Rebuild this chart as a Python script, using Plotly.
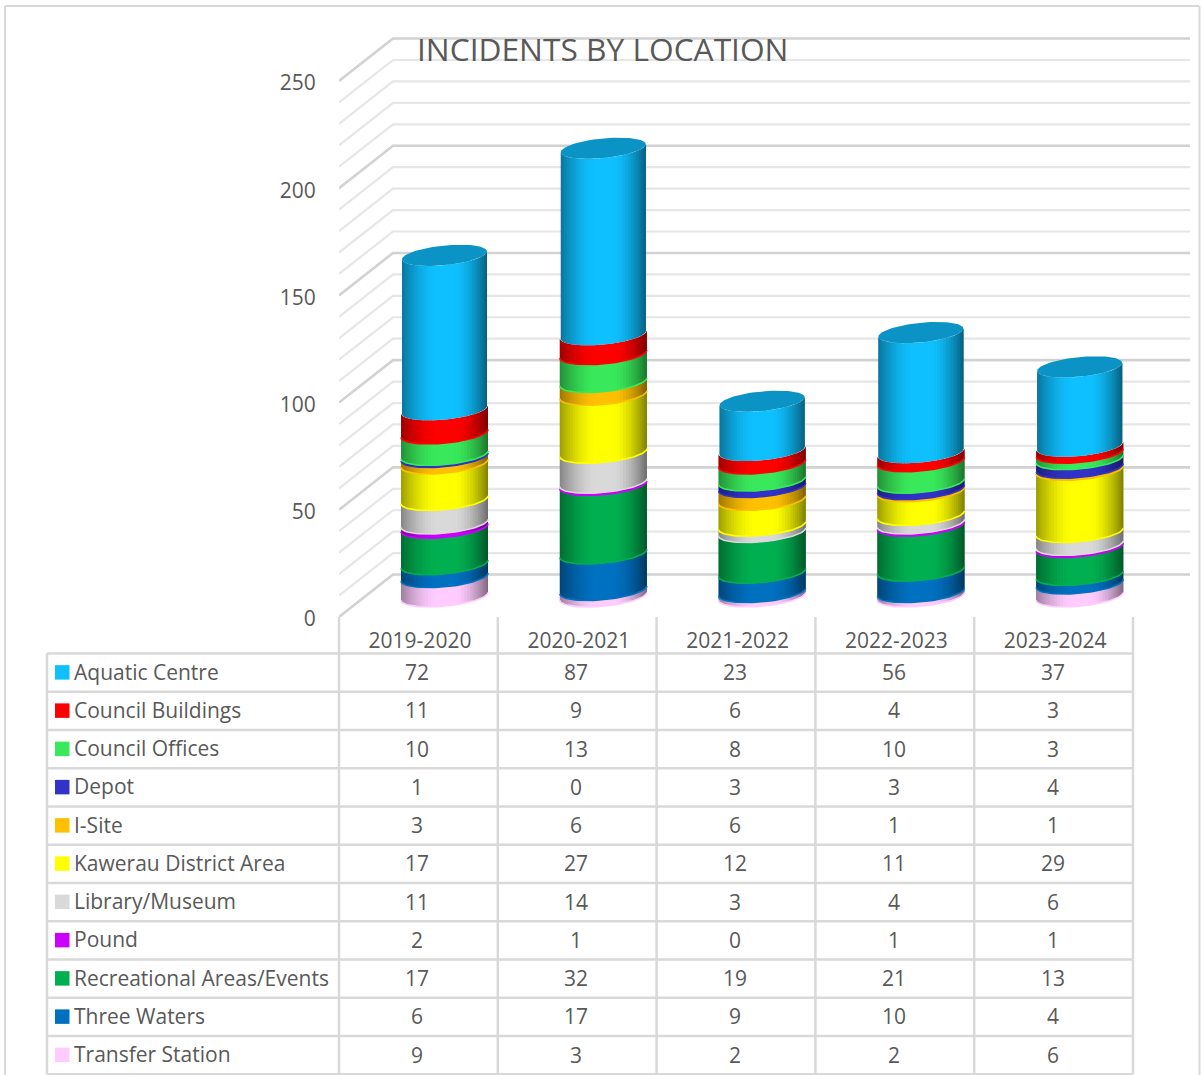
import numpy as np
import plotly.graph_objects as go

years = ["2019-2020", "2020-2021", "2021-2022", "2022-2023", "2023-2024"]
aquatic_centre = [72, 87, 23, 56, 37]
council_buildings = [11, 9, 6, 4, 3]
council_offices = [10, 13, 8, 10, 3]
depot = [1, 0, 3, 3, 4]
i_site = [3, 6, 6, 1, 1]
kawerau_district_area = [17, 27, 12, 11, 29]
library_museum = [11, 14, 3, 4, 6]
pound = [2, 1, 0, 1, 1]
recreational_areas = [17, 32, 19, 21, 13]
three_waters = [6, 17, 9, 10, 4]
transfer_station = [9, 3, 2, 2, 6]

names = ["Aquatic Centre", "Council Buildings", "Council Offices", "Depot", "I-Site",
         "Kawerau District Area", "Library/Museum", "Pound", "Recreational Areas/Events",
         "Three Waters", "Transfer Station"]
values = [aquatic_centre, council_buildings, council_offices, depot, i_site,
          kawerau_district_area, library_museum, pound, recreational_areas,
          three_waters, transfer_station]
colors = ["#0FC0FF", "#FF0000", "#39E95B", "#3232C8", "#FFC000", "#FFFF00",
          "#D9D9D9", "#CC00FF", "#00B050", "#0070C0", "#FFCCFF"]
y_ticks = [0, 50, 100, 150, 200, 250]

W, H = 1201, 1075
TXT = "#595959"
GRID = "#d9d9d9"
FONT = "Open Sans"
FS = 21


def px(x):
    return x / W


def py(y):
    return 1 - y / H


# layout geometry (pixels)
X0, X1, Y0, YTOP = 339, 1190, 617, 30
COL = 158.8
UNIT = 2.144
RIGHT_WALL_DEPTH = 54 / COL
WALL_DEPTH = 19.8
BAR_BASE = (Y0 - 596.3) / UNIT
BAR_C = 105.5 / COL
BAR_A = 43.5 / COL
BAR_A_TOP = 42.5 / COL
RIM_B = 9.8 / UNIT
RIM_T = 4.0 / UNIT


def hex_rgb(c):
    return [int(c[i:i + 2], 16) for i in (1, 3, 5)]


def shade(c, f):
    r = hex_rgb(c)
    return "rgb(%d,%d,%d)" % tuple(int(v * f) for v in r)


def factor(u):
    if u < -0.2:
        return 1 - 0.38 * ((-u - 0.2) / 0.8) ** 1.6
    if u > 0.25:
        return 1 - 0.5 * ((u - 0.25) / 0.75) ** 1.6
    return 1.0


def front(yc, u):
    return yc - RIM_B * np.sqrt(np.clip(1 - u * u, 0, 1)) + RIM_T * u


fig = go.Figure()

# walls / gridlines
for v in range(0, 251, 10):
    major = v % 50 == 0
    fig.add_trace(go.Scatter(
        x=[0, RIGHT_WALL_DEPTH, (X1 - X0) / COL],
        y=[v, v + WALL_DEPTH, v + WALL_DEPTH],
        mode="lines", hoverinfo="skip", showlegend=False,
        line=dict(color="#d2d2d2" if major else "#e6e6e6", width=2.6 if major else 2.2)))

# cylinders, bottom series first
n_strip = 40
angles = np.linspace(np.pi, 0, n_strip + 1)
order = list(range(len(names)))[::-1]
cum = np.zeros(len(years))
for s in order:
    vals = np.array(values[s], dtype=float)
    a = BAR_A_TOP if s == 0 else BAR_A
    for k in range(n_strip):
        u0, u1 = np.cos(angles[k]), np.cos(angles[k + 1])
        u2 = min(u1 + 0.02, 1.0)
        xs, ys = [], []
        for i in range(len(years)):
            if vals[i] <= 0:
                continue
            cx = i + BAR_C
            lo = BAR_BASE + cum[i]
            hi = lo + vals[i]
            xs += [cx + a * u0, cx + a * u2, cx + a * u2, cx + a * u0, cx + a * u0, None]
            ys += [front(lo, u0), front(lo, u2), front(hi, u2), front(hi, u0), front(lo, u0), None]
        fig.add_trace(go.Scatter(
            x=xs, y=ys, mode="lines", fill="toself", hoverinfo="skip", showlegend=False,
            line=dict(width=0, color="rgba(0,0,0,0)"),
            fillcolor=shade(colors[s], factor((u0 + u1) / 2))))
    # rim on the lower edge of each segment
    rx, ry = [], []
    us = np.cos(np.linspace(np.pi, 0, 41))
    if s != 0:
        for i in range(len(years)):
            if vals[i] <= 0:
                continue
            lo = BAR_BASE + cum[i]
            rx += list(i + BAR_C + a * us) + [None]
            ry += list(front(lo, us)) + [None]
        fig.add_trace(go.Scatter(x=rx, y=ry, mode="lines", hoverinfo="skip", showlegend=False,
                                 line=dict(color=colors[s], width=1.6)))
    cum += vals

# top cap
t = np.linspace(0, 2 * np.pi, 81)
capx, capy = [], []
for i in range(len(years)):
    capx += list(i + BAR_C + BAR_A_TOP * np.cos(t)) + [None]
    capy += list(BAR_BASE + cum[i] + RIM_B * np.sin(t) + RIM_T * np.cos(t)) + [None]
fig.add_trace(go.Scatter(x=capx, y=capy, mode="lines", fill="toself", hoverinfo="skip", showlegend=False,
                         line=dict(width=0, color="rgba(0,0,0,0)"), fillcolor="#0A93C4"))

shapes = []


def line(x0, y0, x1, y1, w=2.5, c=GRID):
    shapes.append(dict(type="line", xref="paper", yref="paper", x0=px(x0), y0=py(y0),
                       x1=px(x1), y1=py(y1), line=dict(color=c, width=w)))


# outer frame
line(5, 6, 1199, 6, 2)
line(5, 6, 5, 1075, 2)
line(1199.5, 6, 1199.5, 1075, 2)

# data table
T_L, T_X, T_TOP, ROW = 47, 339, 653.5, 38.25
n_rows = len(names)
T_BOT = T_TOP + ROW * n_rows
for r in range(n_rows + 1):
    line(T_L, T_TOP + r * ROW, T_X + COL * len(years), T_TOP + r * ROW)
line(T_L, T_TOP, T_L, T_BOT)
for c in range(len(years) + 1):
    line(T_X + c * COL, Y0, T_X + c * COL, T_BOT)

annotations = []


def label(x, y, text, anchor="center", size=FS):
    annotations.append(dict(xref="paper", yref="paper", x=px(x), y=py(y), text=text, showarrow=False,
                            xanchor=anchor, yanchor="middle", font=dict(family=FONT, size=size, color=TXT)))


for r, name in enumerate(names):
    yc = T_TOP + (r + 0.5) * ROW
    shapes.append(dict(type="rect", xref="paper", yref="paper", x0=px(55), x1=px(69.5),
                       y0=py(yc - 7.5), y1=py(yc + 7), fillcolor=colors[r], line=dict(width=0)))
    label(72, yc - 1, name, "left")
    for c, v in enumerate(values[r]):
        label(T_X + (c + 0.5) * COL - 1, yc - 0.5, str(v))

label(602, 49, "INCIDENTS BY LOCATION", size=31.7)

fig.update_layout(
    width=W, height=H, autosize=False, margin=dict(l=0, r=0, t=0, b=0),
    paper_bgcolor="white", plot_bgcolor="white", showlegend=False,
    shapes=shapes, annotations=annotations,
    xaxis=dict(domain=[px(X0), px(X1)], range=[0, (X1 - X0) / COL], showgrid=False, zeroline=False,
               automargin=False, showline=False, tickmode="array",
               tickvals=[i + 0.51 for i in range(len(years))],
               ticktext=years, ticks="outside", ticklen=5, tickcolor="white",
               tickfont=dict(family=FONT, size=FS, color=TXT)),
    yaxis=dict(domain=[py(Y0), py(YTOP)], range=[0, (Y0 - YTOP) / UNIT], showgrid=False, zeroline=False,
               automargin=False, showline=False, tickmode="array", tickvals=y_ticks, ticks="outside",
               ticklen=18, tickcolor="white", ticklabelshift=2,
               tickfont=dict(family=FONT, size=FS, color=TXT)),
)

fig.write_html("out.html", config=dict(displayModeBar=False),
               post_script="document.body.style.margin='0';document.documentElement.style.overflow='hidden';")
